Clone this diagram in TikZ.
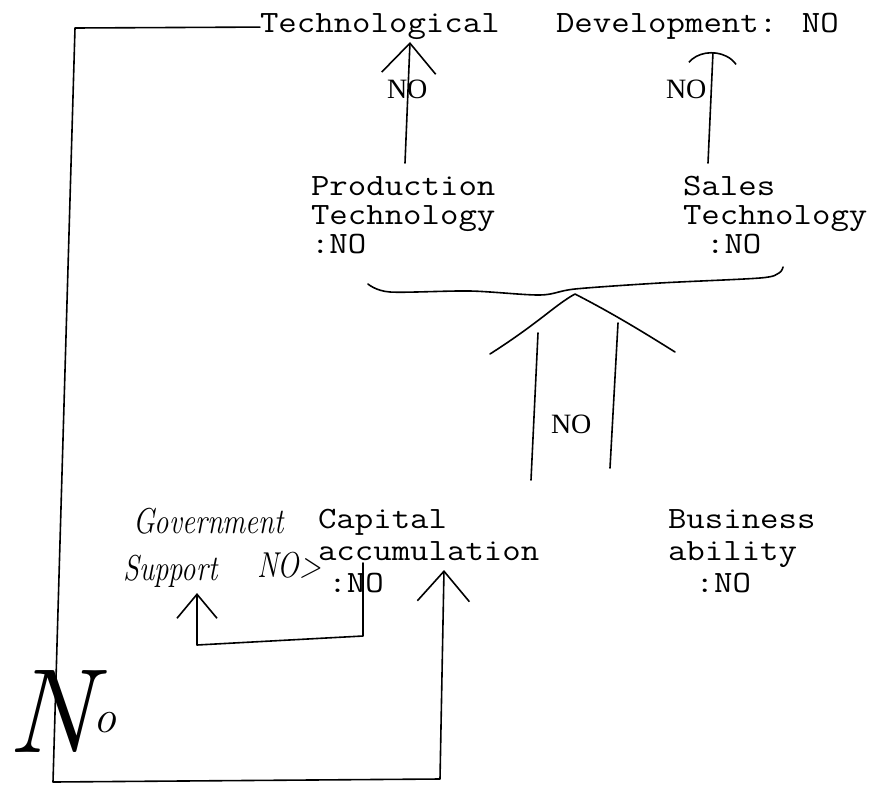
\documentclass[tikz,border=0pt]{standalone}
\usepackage{fontspec}
\usepackage{graphicx}
\usetikzlibrary{arrows.meta}
\newfontfamily\lbserif{Liberation Serif}
\newcommand\lbfont{\lbserif\fontsize{28}{28}\selectfont}
\newcommand\tyfont{\ttfamily\fontsize{31}{29}\selectfont}
\newcommand\hwfont{\itshape\fontsize{36}{38}\selectfont}
% widened typewriter text
\newcommand\wide[1]{\scalebox{1.155}[1]{#1}}
% lines of typed text, first-line baseline as reference point
\newcommand\rows[2]{\wide{\fontsize{31}{#1}\selectfont\begin{tabular}[t]{@{}l@{}}#2\end{tabular}}}
\begin{document}
\begin{tikzpicture}[x=1pt,y=-1pt,
  every node/.style={inner sep=0pt,outer sep=0pt},
  typed/.style={font=\tyfont,anchor=base west},
  lbl/.style={font=\lbfont,anchor=base west},
  hand/.style={font=\hwfont,anchor=base west},
  ink/.style={line width=1.6pt,line cap=round,line join=round},
  conn/.style={ink,-{Straight Barb[length=30pt,width=52pt]}},
  smallconn/.style={ink,-{Straight Barb[length=24pt,width=40pt]}},
  sharphead/.style={ink,-{Straight Barb[length=30pt,width=54pt]}},
  archead/.style={ink,-{Arc Barb[arc=120,length=22pt,width=56pt]}}]
\useasboundingbox (0,0) rectangle (872,784);

% typed items
\node[typed] (tech) at (260,33) {\wide{Technological}};
\node[typed] (dev) at (556,33) {\wide{Development: NO}};
\node[typed] (prod) at (311,195) {\rows{29}{Production\\Technology\\:NO}};
\node[typed] (sales) at (683,195) {\rows{29}{Sales\\Technology\\\hspace*{20pt}:NO}};
\node[typed] (capital) at (318,528) {\rows{32}{Capital\\accumulation\\\hspace*{9pt}:NO}};
\node[typed] (business) at (668,528) {\rows{32}{Business\\ability\\\hspace*{24pt}:NO}};

% handwritten notes
\node[hand] (gov) at (133,533) {\scalebox{0.8}[1]{\begin{tabular}[t]{@{}l@{}}Government\\[9pt]\hspace*{-12pt}Support\end{tabular}}};
\node[hand] (govno) at (257,577) {\scalebox{0.8}[1]{NO>}};
\node[anchor=base west] (bigno) at (8,752) {\itshape\fontsize{120}{120}\selectfont N\kern-2pt\raisebox{20pt}{\fontsize{46}{46}\selectfont o}};

% connector end points
\coordinate (techin) at (410,42);
\coordinate (prodout) at (405,163);
\coordinate (devin) at (713,52);
\coordinate (salesout) at (708,163);
\coordinate (capin) at (444,570);
\coordinate (capout) at (363,563);
\coordinate (govin) at (197,593);
\coordinate (apex) at (575,294);

% arrows to the top row
\draw[sharphead] (prodout) -- (techin);
\draw[archead] (salesout) -- (devin);
\node[lbl] (noprod) at (387,98) {NO};
\node[lbl] (nosales) at (666,98) {NO};

% brace joining the two technologies
\draw[ink] plot[smooth,tension=0.5] coordinates
  {(368,284) (390,292) (470,291) (540,295) (575,289) (660,283) (760,278) (779,273) (783,267)};

% broad arrow rising to the brace
\draw[ink] (490,354) .. controls (540,322) and (555,305) .. (apex) .. controls (610,312) and (640,330) .. (675,352);
\draw[ink] (531,480) -- (538,333);
\draw[ink] (610,468) -- (618,323);
\node[lbl] (nobig) at (551,433) {NO};

% feedback from technological development to capital accumulation
\draw[conn] (tech.west) -- (75,28) -- (53,782) -- (440,779) -- (capin);

% capital accumulation back to government support
\draw[smallconn] (capout) -- (363,636) -- (197,645) -- (govin);

\end{tikzpicture}
\end{document}
